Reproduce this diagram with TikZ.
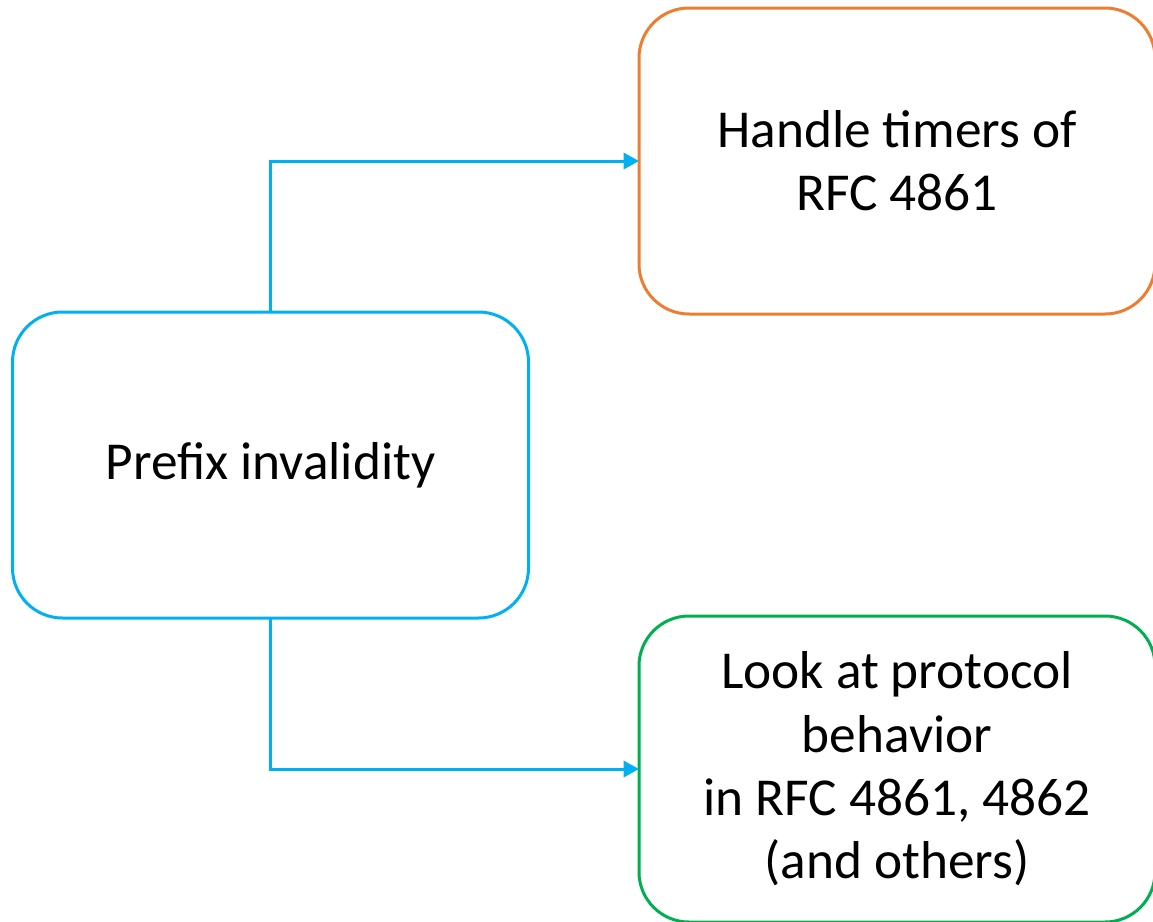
\documentclass[tikz,border=0pt]{standalone}
\usepackage{fontspec}
\setmainfont{Carlito}
\usetikzlibrary{arrows.meta}
\definecolor{cblue}{HTML}{00B0F0}
\definecolor{corange}{HTML}{ED7D31}
\definecolor{cgreen}{HTML}{00B050}
\begin{document}
\begin{tikzpicture}[x=0.75pt,y=-0.75pt,
  box/.style={draw, line width=2.25pt, rounded corners=37.5pt, fill=white,
    minimum width=387pt, minimum height=229.5pt, inner sep=0pt, outer sep=0pt,
    align=center, font=\fontsize{40}{47.5}\selectfont},
  conn/.style={draw=cblue, line width=2.25pt, -{Triangle[length=11.5pt,width=12pt]}}]
\useasboundingbox (0,0) rectangle (1153,921);
\node[box, draw=cblue] (L) at (270.5,465) {Prefix invalidity};
\node[box, draw=corange] (T) at (897,161) {Handle timers of\\RFC 4861};
\node[box, draw=cgreen] (B) at (897,769) {Look at protocol\\behavior\\in RFC 4861, 4862\\(and others)};
\draw[conn] (L.north) |- (T.west);
\draw[conn] (L.south) |- (B.west);
\end{tikzpicture}
\end{document}
